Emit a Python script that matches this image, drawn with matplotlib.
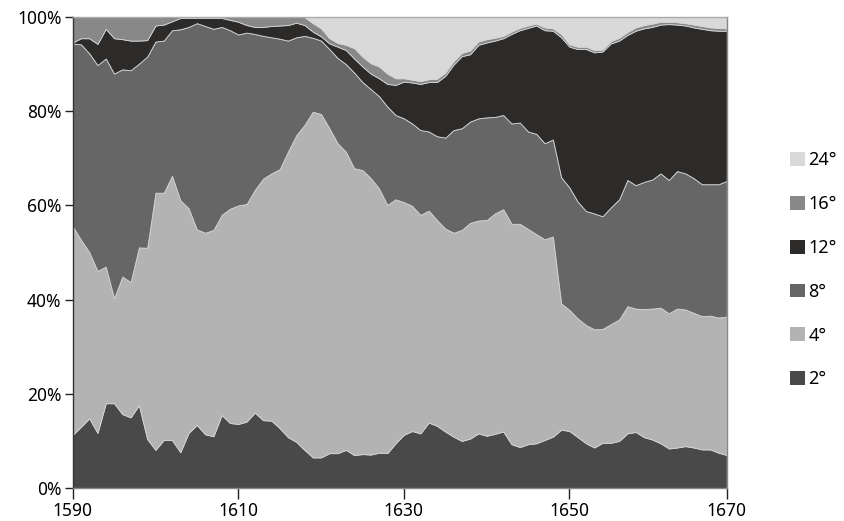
import matplotlib
matplotlib.use("Agg")
import matplotlib.pyplot as plt
from matplotlib.patches import Patch
import numpy as np

plt.rcParams['font.family'] = ['Noto Sans', 'DejaVu Sans']

years = np.arange(1590, 1670)

# share of each class per year (%)
s2 = [11.3, 13.0, 14.8, 11.7, 18.0, 18.0, 15.7, 15.0, 17.6, 10.4,
      8.1, 10.2, 10.2, 7.6, 11.7, 13.4, 11.4, 11.0, 15.5, 13.8,
      13.6, 14.1, 16.0, 14.4, 14.3, 12.7, 10.8, 9.8, 8.1, 6.5,
      6.5, 7.4, 7.4, 8.1, 7.0, 7.2, 7.1, 7.5, 7.4, 9.5,
      11.3, 12.1, 11.6, 13.9, 13.2, 12.0, 10.9, 10.0, 10.5, 11.6,
      11.1, 11.5, 12.0, 9.3, 8.7, 9.3, 9.5, 10.2, 10.9, 12.4,
      12.1, 10.8, 9.5, 8.6, 9.6, 9.6, 10.0, 11.6, 11.9, 10.8,
      10.3, 9.5, 8.4, 8.6, 8.9, 8.6, 8.2, 8.2, 7.5, 7.0]
s4 = [44.3, 39.7, 35.3, 34.4, 29.0, 22.3, 29.2, 28.7, 33.5, 40.6,
      54.6, 52.5, 56.1, 53.5, 47.7, 41.5, 42.8, 43.8, 42.5, 45.5,
      46.4, 46.2, 47.3, 51.3, 52.5, 55.0, 60.6, 65.1, 69.0, 73.4,
      72.9, 69.0, 65.8, 63.3, 60.9, 60.3, 58.7, 56.1, 52.7, 51.8,
      49.4, 47.8, 46.4, 45.0, 43.7, 43.1, 43.3, 44.8, 45.8, 45.2,
      45.8, 46.8, 47.2, 46.8, 47.4, 45.7, 44.4, 42.6, 42.5, 26.8,
      25.7, 25.2, 25.1, 25.1, 24.2, 25.2, 25.8, 27.0, 26.2, 27.2,
      27.8, 28.8, 28.7, 29.5, 29.0, 28.6, 28.3, 28.4, 28.7, 29.4]
s8 = [38.8, 41.5, 42.2, 43.7, 44.2, 47.7, 44.0, 45.0, 39.0, 40.6,
      32.1, 32.3, 30.9, 36.3, 38.5, 43.8, 43.9, 42.7, 39.9, 37.9,
      36.3, 36.4, 33.1, 30.3, 28.9, 27.7, 23.6, 20.8, 18.9, 15.7,
      15.6, 16.8, 18.1, 18.6, 20.3, 18.7, 18.9, 19.6, 20.9, 17.9,
      17.8, 17.5, 18.0, 16.8, 17.8, 19.3, 21.8, 21.6, 21.5, 21.7,
      21.8, 20.5, 20.0, 21.3, 21.5, 20.7, 21.3, 20.4, 20.6, 26.8,
      26.0, 24.8, 24.2, 24.6, 23.9, 24.8, 25.5, 26.8, 26.2, 27.0,
      27.4, 28.5, 28.3, 29.2, 28.9, 28.6, 28.0, 27.9, 28.3, 28.8]
s12 = [0.2, 1.3, 3.2, 4.5, 6.3, 7.5, 6.4, 6.3, 4.9, 3.5,
       3.4, 3.4, 1.9, 2.4, 1.9, 1.1, 1.7, 2.3, 1.9, 2.2,
       2.7, 1.6, 1.5, 1.9, 2.4, 2.8, 3.3, 3.1, 2.3, 1.3,
       0.9, 1.2, 2.4, 3.0, 3.0, 3.3, 3.3, 3.8, 4.8, 6.4,
       7.8, 8.7, 9.8, 10.5, 11.5, 13.1, 13.9, 15.3, 14.3, 15.6,
       15.9, 16.2, 16.3, 19.0, 19.6, 22.0, 23.0, 24.0, 23.1, 29.7,
       29.9, 32.4, 34.4, 34.2, 35.0, 34.8, 33.7, 30.8, 32.8, 32.6,
       32.4, 31.6, 33.1, 31.1, 31.4, 32.0, 33.0, 32.7, 32.6, 31.9]
s16 = [5.4, 4.5, 4.5, 5.7, 2.5, 4.5, 4.7, 5.0, 5.0, 4.9,
       1.8, 1.6, 0.9, 0.2, 0.2, 0.2, 0.2, 0.2, 0.2, 0.6,
       1.0, 1.7, 2.1, 2.1, 1.9, 1.8, 1.7, 1.2, 1.7, 1.8,
       1.7, 1.1, 0.8, 1.1, 2.2, 2.1, 2.2, 2.5, 2.2, 1.4,
       0.7, 0.6, 0.6, 0.6, 0.7, 0.7, 0.7, 0.7, 0.8, 0.7,
       0.7, 0.6, 0.5, 0.5, 0.5, 0.5, 0.4, 0.6, 0.5, 0.7,
       0.5, 0.5, 0.5, 0.5, 0.4, 0.5, 0.6, 0.6, 0.7, 0.7,
       0.7, 0.6, 0.5, 0.5, 0.5, 0.6, 0.6, 0.6, 0.6, 0.5]
s24 = [0, 0, 0, 0, 0, 0, 0, 0, 0, 0,
       0, 0, 0, 0, 0, 0, 0, 0, 0, 0,
       0, 0, 0, 0, 0, 0, 0, 0, 0, 1.3,
       2.4, 4.5, 5.5, 5.9, 6.6, 8.4, 9.8, 10.5, 12.0, 13.0,
       13.0, 13.3, 13.6, 13.2, 13.1, 11.8, 9.4, 7.6, 7.1, 5.2,
       4.7, 4.4, 4.0, 3.1, 2.3, 1.8, 1.4, 2.2, 2.4, 3.6,
       5.8, 6.3, 6.3, 7.0, 6.9, 5.1, 4.4, 3.2, 2.2, 1.7,
       1.4, 1.0, 1.0, 1.1, 1.3, 1.6, 1.9, 2.2, 2.3, 2.4]

labels = ['2°', '4°', '8°', '12°', '16°', '24°']
colors = ['#4a4949', '#b3b3b3', '#666666', '#2d2b2a', '#888888', '#d9d9d9']

data = np.array([s2, s4, s8, s12, s16, s24], dtype=float)
data = data / data.sum(axis=0) * 100  # 100% stacked

fig = plt.figure(figsize=(8.44, 5.21), dpi=100)
ax = fig.add_axes([0.0861, 0.0633, 0.775, 0.904])

ax.stackplot(years, data, colors=colors, edgecolor='#d4d4d4', linewidth=0.6)

ax.set_xlim(1590, 1669)
ax.set_ylim(0, 100)
ax.set_xticks([1590, 1610, 1630, 1650, 1669])
ax.set_xticklabels(['1590', '1610', '1630', '1650', '1670'])
ax.set_yticks(np.arange(0, 101, 20))
ax.set_yticklabels([f'{v}%' for v in range(0, 101, 20)])

ax.tick_params(axis='x', direction='out', length=8, width=1, color='#222222',
               labelsize=12.5, pad=2)
ax.tick_params(axis='y', direction='out', length=6, width=1, color='#222222',
               labelsize=12.5, pad=2)

ax.spines['left'].set_color('#333333')
ax.spines['bottom'].set_color('#888888')
ax.spines['top'].set_color('#aaaaaa')
ax.spines['right'].set_color('#888888')
for s in ax.spines.values():
    s.set_linewidth(1)

handles = [Patch(facecolor=c, edgecolor='none') for c in colors][::-1]
fig.legend(handles, labels[::-1], loc='center left', bbox_to_anchor=(0.928, 0.482),
           frameon=False, fontsize=13, handlelength=0.8, handleheight=0.8,
           handletextpad=0.2, labelspacing=1.43, borderaxespad=0)

fig.savefig('out.png', dpi=100)
